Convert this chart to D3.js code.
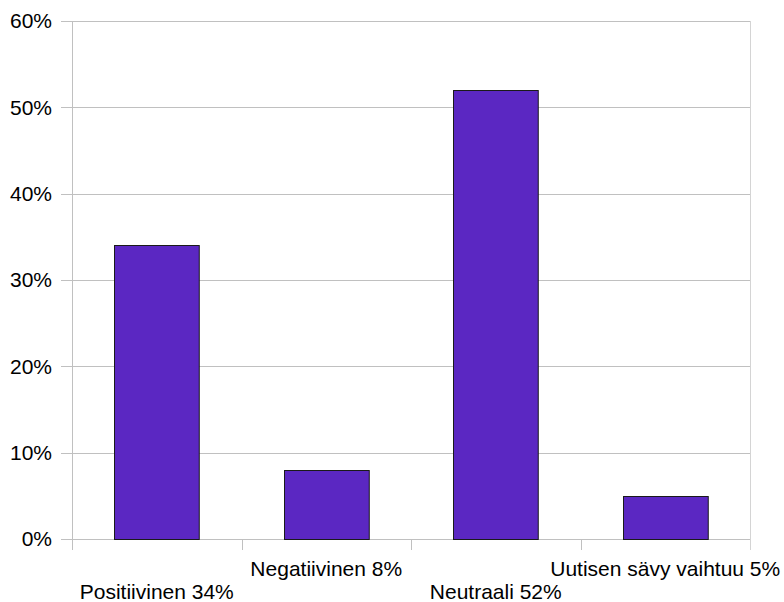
<!DOCTYPE html>
<html>
<head>
<meta charset="utf-8">
<script src="https://cdn.jsdelivr.net/npm/d3@7"></script>
<style>
  html, body { margin: 0; padding: 0; background: #fff; }
  svg { display: block; }
  text { font-family: "Liberation Sans", Arial, sans-serif; fill: #000; }
</style>
</head>
<body>
<svg id="chart" width="784" height="602"></svg>
<script>
const categories = ["Positiivinen 34%", "Negatiivinen 8%", "Neutraali 52%", "Uutisen sävy vaihtuu 5%"];
const values = [0.34, 0.08, 0.52, 0.05];
const yTicks = [0, 0.1, 0.2, 0.3, 0.4, 0.5, 0.6];
const yTickLabels = ["0%", "10%", "20%", "30%", "40%", "50%", "60%"];

const svg = d3.select("#chart");
const plotLeft = 72, plotRight = 750, plotTop = 21, plotBottom = 539;
const fontSize = 21;

const x = d3.scaleBand().domain(categories).range([plotLeft, plotRight]).paddingInner(0.5).paddingOuter(0.25);
const y = d3.scaleLinear().domain([0, 0.6]).range([plotBottom, plotTop]);
const step = x.step();

// gridlines
svg.append("g").selectAll("line").data(yTicks).join("line")
  .attr("x1", plotLeft - 11).attr("x2", plotRight)
  .attr("y1", d => Math.round(y(d)) + 0.5).attr("y2", d => Math.round(y(d)) + 0.5)
  .attr("stroke", "#c0c0c0").attr("stroke-width", 1);

// left axis line
svg.append("line").attr("x1", plotLeft + 0.5).attr("x2", plotLeft + 0.5)
  .attr("y1", plotTop).attr("y2", plotBottom + 11)
  .attr("stroke", "#c0c0c0");
// right border
svg.append("line").attr("x1", plotRight + 0.5).attr("x2", plotRight + 0.5)
  .attr("y1", plotTop).attr("y2", plotBottom + 11)
  .attr("stroke", "#d4d4d4");

// bottom ticks at band boundaries
const boundaries = categories.map(c => x(c) - step * 0.25).concat([plotRight]);
svg.append("g").selectAll("line").data(boundaries.slice(1, -1)).join("line")
  .attr("x1", d => Math.round(d) + 0.5).attr("x2", d => Math.round(d) + 0.5)
  .attr("y1", plotBottom).attr("y2", plotBottom + 11)
  .attr("stroke", "#c0c0c0");

// y labels
svg.append("g").selectAll("text").data(yTicks).join("text")
  .attr("x", 52).attr("y", d => y(d))
  .attr("dy", "0.35em")
  .attr("text-anchor", "end")
  .attr("font-size", fontSize)
  .text((d, i) => yTickLabels[i]);

// bars
svg.append("g").selectAll("rect").data(values).join("rect")
  .attr("x", (d, i) => Math.round(x(categories[i])) + 0.5)
  .attr("y", d => Math.round(y(d)) + 0.5)
  .attr("width", x.bandwidth())
  .attr("height", d => Math.round(plotBottom) - Math.round(y(d)))
  .attr("fill", "#5b27c2")
  .attr("stroke", "#1a1a1a")
  .attr("stroke-width", 1);

// x labels (staggered)
svg.append("g").selectAll("text").data(categories).join("text")
  .attr("x", d => x(d) + x.bandwidth() / 2)
  .attr("y", (d, i) => i % 2 === 0 ? 599 : 576)
  .attr("text-anchor", "middle")
  .attr("font-size", fontSize)
  .text(d => d);
</script>
</body>
</html>
